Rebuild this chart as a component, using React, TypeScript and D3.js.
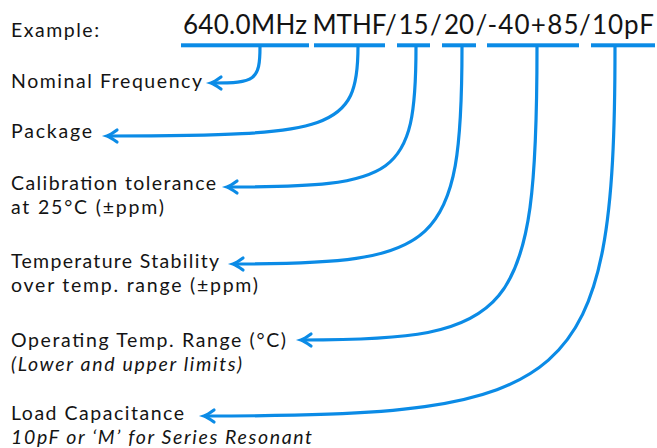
import { useEffect } from "react";
import * as d3 from "d3";

// part number pieces and the label for each coded field
const codeParts = ["640.0MHz", "MTHF", "15", "20", "-40+85", "10pF"];
const labelTitles = [
  "Nominal Frequency",
  "Package",
  "Calibration tolerance",
  "Temperature Stability",
  "Operating Temp. Range (°C)",
  "Load Capacitance",
];
const labelNotes = [
  "",
  "",
  "at 25°C (±ppm)",
  "over temp. range (±ppm)",
  "(Lower and upper limits)",
  "10pF or ‘M’ for Series Resonant",
];
const noteItalic = [false, false, false, false, true, true];

// layout (pixels)
const W = 657;
const H = 448;
const BLUE = "#0b8be6";
const INK = "#141414";
const FONT = "Lato, 'Open Sans', sans-serif";
const partSpan = [
  [181, 309],
  [314, 385],
  [397, 430],
  [442, 476],
  [487, 579],
  [591, 655],
];
const partSpacing = [0.3, 0, 0, 0, 1.2, 0.9];
const dropX = [260, 358, 416, 462, 537, 615];
const arrowY = [83, 136, 187, 264, 340, 416];
const tipX = [211, 107, 227, 233, 301, 204];
const titleY = [88, 138, 190, 268, 347, 420];
const titleLen = [191, 81, 205, 208, 275, 173];
const noteLen = [0, 0, 153, 247, 231, 301];
const barY = 45.3;

function connector(i: number) {
  const x0 = dropX[i];
  const y0 = barY + 1;
  const x3 = tipX[i] + 1;
  const y3 = arrowY[i];
  const p = d3.path();
  p.moveTo(x0, y0);
  p.bezierCurveTo(
    x0,
    y0 + 0.93 * (y3 - y0),
    x3 + 0.9 * (x0 - x3),
    y3,
    x3,
    y3
  );
  return p.toString();
}

function arrowHead(i: number) {
  const x = tipX[i];
  const y = arrowY[i];
  const p = d3.path();
  p.moveTo(x + 10, y - 6);
  p.quadraticCurveTo(x + 3, y - 1, x, y);
  p.quadraticCurveTo(x + 3, y + 1, x + 10, y + 6);
  return p.toString();
}

export default function App() {
  useEffect(() => {
    document.body.style.margin = "0";
  }, []);

  // header pieces: code parts with slashes between the later ones
  const pieces: { t: string; x: number; w: number; ls: number }[] = [];
  codeParts.forEach((d, i) => {
    if (i >= 2) {
      const gx0 = partSpan[i - 1][1];
      const gx1 = partSpan[i][0];
      pieces.push({ t: "/", x: gx0, w: gx1 - gx0, ls: 0 });
    }
    const ls = partSpacing[i];
    // shift by half the trailing letter-space so the word stays centred
    pieces.push({ t: d, x: partSpan[i][0] + ls / 2, w: partSpan[i][1] - partSpan[i][0], ls });
  });

  return (
    <svg width={W} height={H} style={{ display: "block", background: "#fff" }}>
      <text x={11} y={36.5} fontFamily={FONT} fontSize={19.5} fill={INK} textLength={88} lengthAdjust="spacing">
        Example:
      </text>

      <text y={33.5} fontFamily={FONT} fontSize={26} fill={INK} textAnchor="middle">
        {pieces.map((p, i) => (
          <tspan key={i} x={p.x + p.w / 2} letterSpacing={p.ls}>
            {p.t}
          </tspan>
        ))}
      </text>
      {codeParts.map((d, i) => (
        <rect
          key={d}
          x={partSpan[i][0]}
          y={barY - 2}
          width={partSpan[i][1] - partSpan[i][0]}
          height={4}
          fill={BLUE}
        />
      ))}

      {labelTitles.map((t, i) => (
        <g key={t}>
          <path d={connector(i)} fill="none" stroke={BLUE} strokeWidth={3.2} />
          <path d={arrowHead(i)} fill="none" stroke={BLUE} strokeWidth={3.2} strokeLinecap="round" />
          <text
            x={11}
            y={titleY[i]}
            fontFamily={FONT}
            fontSize={19.5}
            fill={INK}
            textLength={titleLen[i]}
            lengthAdjust="spacing"
          >
            {t}
          </text>
          {labelNotes[i] && (
            <text
              x={11}
              y={titleY[i] + 24}
              fontFamily={FONT}
              fontSize={19.5}
              fontStyle={noteItalic[i] ? "italic" : "normal"}
              fill={INK}
              textLength={noteLen[i]}
              lengthAdjust="spacing"
            >
              {labelNotes[i]}
            </text>
          )}
        </g>
      ))}
    </svg>
  );
}
